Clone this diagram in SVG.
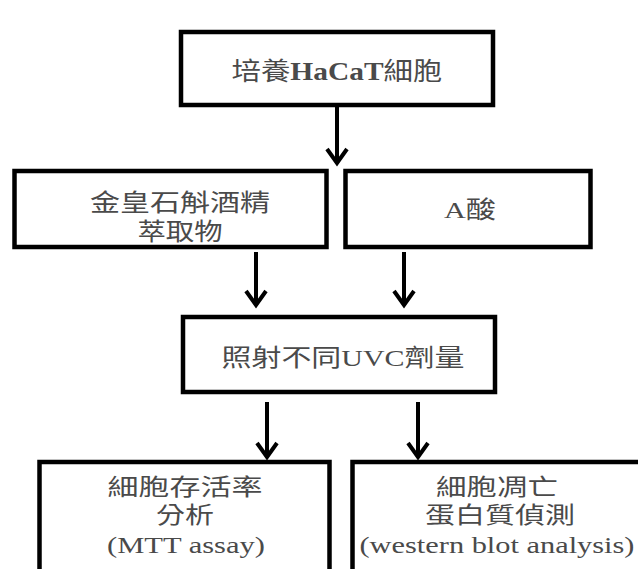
<svg xmlns="http://www.w3.org/2000/svg" width="638" height="569" viewBox="0 0 638 569">
<style>
.box{fill:none;stroke:#000;stroke-width:4.5}
.t{font-family:"Liberation Serif","Noto Sans CJK TC",serif;fill:#4a4a4a;text-anchor:middle}
.c{stroke:#000;stroke-width:4;fill:none}
</style>
<defs>
<marker id="ah" markerUnits="userSpaceOnUse" orient="auto" overflow="visible" refX="0" refY="0" markerWidth="1" markerHeight="1">
<path d="M-14,-10 L0,0 L-14,10" fill="none" stroke="#000" stroke-width="4"/>
</marker>
</defs>
<rect width="638" height="569" fill="#fff"/>
<g id="connectors">
<line class="c" x1="337" y1="107" x2="337" y2="163" marker-end="url(#ah)"/>
<line class="c" x1="256" y1="252" x2="256" y2="305" marker-end="url(#ah)"/>
<line class="c" x1="404" y1="252" x2="404" y2="305" marker-end="url(#ah)"/>
<line class="c" x1="267" y1="402" x2="267" y2="457" marker-end="url(#ah)"/>
<line class="c" x1="418" y1="402" x2="418" y2="457" marker-end="url(#ah)"/>
</g>
<g id="n1">
<rect class="box" x="181" y="32" width="312" height="73"/>
<text class="t" x="337" y="80" font-size="25" textLength="211" lengthAdjust="spacingAndGlyphs">培養<tspan font-weight="bold">HaCaT</tspan>細胞</text>
</g>
<g id="n2">
<rect class="box" x="14.5" y="171" width="312" height="76"/>
<text class="t" x="180" y="211" font-size="24" textLength="180" lengthAdjust="spacingAndGlyphs">金皇石斛酒精</text>
<text class="t" x="180" y="240" font-size="24" textLength="85" lengthAdjust="spacingAndGlyphs">萃取物</text>
</g>
<g id="n3">
<rect class="box" x="345.5" y="171" width="245" height="76"/>
<text class="t" x="470" y="218" font-size="24" textLength="52" lengthAdjust="spacingAndGlyphs">A酸</text>
</g>
<g id="n4">
<rect class="box" x="183" y="317" width="312" height="75"/>
<text class="t" x="343" y="366" font-size="24" textLength="243" lengthAdjust="spacingAndGlyphs">照射不同UVC劑量</text>
</g>
<g id="n5">
<path class="box" d="M39.5,575 V462 H329.5 V575"/>
<text class="t" x="185" y="495" font-size="23" textLength="155" lengthAdjust="spacingAndGlyphs">細胞存活率</text>
<text class="t" x="185" y="523" font-size="23" textLength="58" lengthAdjust="spacingAndGlyphs">分析</text>
<text class="t" x="186" y="553" font-size="23" textLength="158" lengthAdjust="spacingAndGlyphs">(MTT assay)</text>
</g>
<g id="n6">
<path class="box" d="M352.5,575 V462 H650"/>
<text class="t" x="497" y="495" font-size="23" textLength="122" lengthAdjust="spacingAndGlyphs">細胞凋亡</text>
<text class="t" x="500" y="523" font-size="23" textLength="150" lengthAdjust="spacingAndGlyphs">蛋白質偵測</text>
<text class="t" x="497" y="553" font-size="23" textLength="275" lengthAdjust="spacingAndGlyphs">(western blot analysis)</text>
</g>
</svg>
